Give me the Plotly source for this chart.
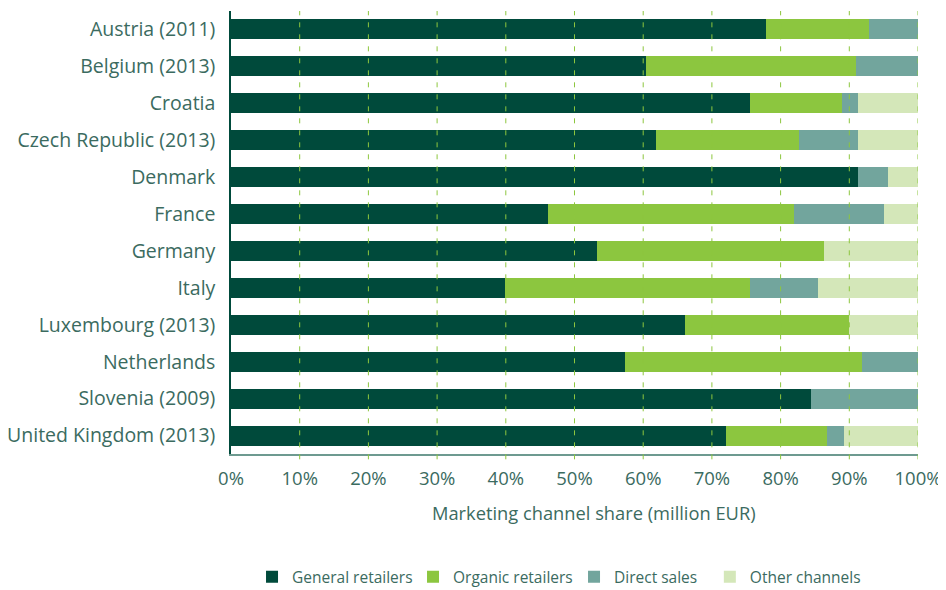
import plotly.graph_objects as go

countries = ["Austria (2011)", "Belgium (2013)", "Croatia", "Czech Republic (2013)", "Denmark",
             "France", "Germany", "Italy", "Luxembourg (2013)", "Netherlands",
             "Slovenia (2009)", "United Kingdom (2013)"]
general = [77.9, 60.4, 75.5, 61.8, 91.3, 46.1, 53.3, 39.9, 66.1, 57.3, 84.4, 72.1]
organic = [15.0, 30.6, 13.5, 20.9, 0.0, 35.8, 33.0, 35.6, 23.9, 34.6, 0.0, 14.6]
direct = [7.1, 9.0, 2.2, 8.5, 4.4, 13.2, 0.0, 9.9, 0.0, 8.1, 15.6, 2.5]
other = [0.0, 0.0, 8.8, 8.8, 4.3, 4.9, 13.7, 14.6, 10.0, 0.0, 0.0, 10.8]
tick_values = [0, 10, 20, 30, 40, 50, 60, 70, 80, 90, 100]
tick_labels = ["0%", "10%", "20%", "30%", "40%", "50%", "60%", "70%", "80%", "90%", "100%"]
x_title = "Marketing channel share (million EUR)"

series = [("General retailers", general, "#004a3b", "legend"),
          ("Organic retailers", organic, "#8cc63f", "legend"),
          ("Direct sales", direct, "#72a59d", "legend"),
          ("Other channels", other, "#d4e7b9", "legend2")]

text_color = "#3b6b5f"
font_family = "Open Sans, Noto Sans, sans-serif"

fig = go.Figure()
for name, vals, color, leg in series:
    fig.add_trace(go.Bar(y=countries, x=vals, name=name, orientation="h", legend=leg,
                         marker=dict(color=color, line=dict(width=0))))

# dashed vertical gridlines drawn above the bars (as in the reference)
for v in tick_values[1:]:
    fig.add_shape(type="line", xref="x", yref="paper", x0=v, x1=v, y0=-0.012, y1=1,
                  layer="above", line=dict(color="#8dc63f", width=1, dash="5px,7px"))

# x-axis title (slightly right of centre, as in the reference)
fig.add_annotation(text=x_title, xref="paper", yref="paper", x=0.528, y=-0.132,
                   xanchor="center", yanchor="middle", showarrow=False,
                   font=dict(size=18.3, color=text_color))

legend_font = dict(size=15.5, color=text_color)
# the page body has an 8px margin, so the figure is 8px smaller than the window
fig.update_layout(
    barmode="stack",
    bargap=0.46,
    width=938, height=582,
    margin=dict(l=223, r=28, t=2.5, b=135.5, autoexpand=False),
    plot_bgcolor="white", paper_bgcolor="white",
    font=dict(family=font_family, color=text_color, size=18),
    legend=dict(orientation="h", x=0.0306, xanchor="left", y=-0.278, yanchor="middle",
                font=legend_font, traceorder="normal",
                entrywidth=116, entrywidthmode="pixels"),
    legend2=dict(orientation="h", x=0.697, xanchor="left", y=-0.278, yanchor="middle",
                 font=legend_font),
)
fig.update_xaxes(range=[0, 100], tickvals=tick_values, ticktext=tick_labels,
                 showgrid=False,
                 showline=True, linecolor="#6d9a90", linewidth=2, automargin=False,
                 zeroline=False, ticks="", tickfont=dict(size=18.5), ticklabelstandoff=7)
fig.update_yaxes(autorange="reversed", showline=True, linecolor="#004a3b", linewidth=1.5,
                 showgrid=False, ticks="", ticklabelstandoff=10, tickfont=dict(size=19.5),
                 automargin=False)

fig.write_html("out.html")
